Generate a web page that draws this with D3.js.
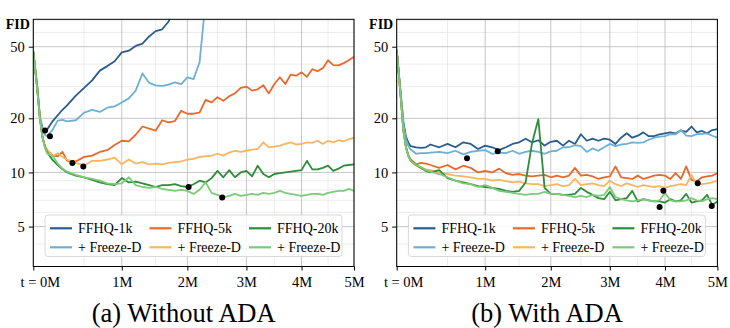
<!DOCTYPE html>
<html>
<head>
<meta charset="utf-8">
<script src="https://cdn.jsdelivr.net/npm/d3@7"></script>
<style>
  body { margin: 0; background: #fff; }
  text { font-family: "Liberation Serif", "DejaVu Serif", serif; }
</style>
</head>
<body>
<div class="chart"></div>
<script>
const WIDTH = 730;
const HEIGHT = 328;
const TOP = 19.3;
const PW = 320.7;
const PH = 247.2;

// training progress (M images shown)
var T = [0, 0.02, 0.04, 0.06, 0.08, 0.1, 0.15, 0.2, 0.25, 0.3,
  0.4, 0.5, 0.6, 0.7, 0.8, 0.9, 1.0, 1.1, 1.2, 1.3,
  1.4, 1.5, 1.6, 1.7, 1.8, 1.9, 2.0, 2.1, 2.2, 2.3,
  2.4, 2.5, 2.6, 2.7, 2.8, 2.9, 3.0, 3.1, 3.2, 3.3,
  3.4, 3.5, 3.6, 3.7, 3.8, 3.9, 4.0, 4.1, 4.2, 4.3,
  4.4, 4.5, 4.6, 4.7, 4.8, 4.9, 5.0];

var xTicks = [0, 1, 2, 3, 4, 5];
var xTickLabels = ["t = 0M", "1M", "2M", "3M", "4M", "5M"];
var xMinor = [0.5, 1.5, 2.5, 3.5, 4.5];
var yTicks = [5, 10, 20, 50];
var yMinor = [4, 6, 7, 8, 9, 30, 40, 60, 70];

var seriesNames = ["FFHQ-1k", "+ Freeze-D", "FFHQ-5k", "+ Freeze-D", "FFHQ-20k", "+ Freeze-D"];

// (a) without ADA
var noAda1k = [47, 30, 20, 17.6, 17.1, 17.4, 19.3, 20.8, 22.3, 23.6,
  26.7, 29.5, 32.5, 36.8, 39, 41.5, 46.5, 47.5, 50.5, 52,
  57, 61, 62.5, 69, 85];
var noAda1kFD = [47, 30, 20, 17.0, 16.2, 15.9, 17.3, 19.4, 19.6, 19.2,
  19.5, 21.5, 22.3, 21.7, 22.9, 23.3, 24.5, 25.8, 28.5, 35.5,
  31.5, 30.5, 30.3, 30.8, 31.7, 31, 33.8, 33, 41, 90];
var noAda5k = [47, 30, 20, 15.6, 14.0, 13.3, 12.4, 12.3, 13.0, 11.6,
  11.5, 12.2, 12.4, 13.0, 13.3, 14.2, 15, 14.9, 16.2, 18,
  17.5, 17.1, 19.5, 19, 19.3, 22, 21.2, 21.2, 21.5, 25.3,
  24.5, 26.2, 25, 26.5, 27.5, 29.5, 30, 28.5, 29, 30.5,
  27.5, 31, 33.8, 31, 35, 34.5, 36, 34, 37.5, 36.5,
  38, 42, 39.5, 39.4, 40.5, 42, 44];
var noAda5kFD = [47, 30, 20, 15.6, 14.0, 13.3, 12.3, 12.8, 12.2, 11.8,
  11.3, 10.9, 11.6, 11.6, 11.8, 12.1, 11.1, 11.8, 11.2, 11.4,
  11.1, 11.2, 11.1, 11.3, 11.4, 11.5, 11.8, 11.9, 12.2, 12.3,
  12.4, 12.7, 12.4, 12.9, 13.2, 13.0, 13.2, 13.4, 13.5, 14.7,
  13.8, 13.9, 14.1, 14.4, 14.7, 14.3, 14.4, 14.7, 14.6, 15,
  14.4, 15, 14.7, 15.1, 14.9, 15.3, 15.6];
var noAda20k = [47, 29.5, 19.5, 15.5, 13.8, 12.9, 11.7, 11.0, 10.4, 10.0,
  9.6, 9.4, 9.1, 8.8, 8.6, 8.5, 9.3, 8.8, 8.9, 8.7,
  8.5, 8.3, 8.5, 8.5, 8.6, 8.4, 8.3, 8.6, 9.0, 8.8,
  9.3, 10.2, 9.4, 10.3, 9.4, 10.0, 10.2, 9.5, 10.9, 9.8,
  9.4, 9.8, 9.9, 10.0, 10.1, 10.2, 10.3, 11.6, 10.4, 10.4,
  10.6, 10.9, 10.2, 10.5, 10.9, 11.0, 11.1];
var noAda20kFD = [47, 29, 19.5, 15.6, 13.7, 12.7, 12.3, 11.2, 10.5, 10.1,
  9.7, 9.4, 9.2, 9.0, 8.7, 8.6, 8.7, 9.4, 8.5, 8.3,
  8.2, 8.3, 8.1, 8.0, 7.9, 8.0, 7.9, 7.6, 8.0, 8.8,
  7.7, 7.5, 7.3, 7.4, 7.6, 7.4, 7.5, 7.6, 7.5, 7.7,
  7.6, 7.7, 7.9, 7.7, 7.6, 7.5, 7.4, 7.5, 7.6, 7.6,
  7.5, 7.7, 7.8, 7.9, 7.9, 8.1, 7.9];
var noAdaBest = [[0.08, 17.1], [0.124, 15.9], [0.36, 11.3], [0.49, 10.8], [2.02, 8.3], [2.58, 7.25]];

// (b) with ADA
var ada1k = [48, 28, 19, 15.8, 14.6, 14.0, 13.8, 13.7, 13.8, 14.3,
  13.8, 14.4, 13.8, 14.7, 14.4, 13.5, 14.1, 13.8, 13.3, 13.8,
  14.4, 14.7, 15.4, 14.7, 15.1, 14.1, 14.8, 15.0, 14.1, 15.0,
  14.4, 16.3, 15.0, 15.4, 15.0, 15.4, 15.2, 14.4, 15.6, 16.5,
  15.6, 16.0, 16.7, 15.9, 15.9, 16.3, 16.5, 16.7, 16.5, 17.1,
  16.8, 18.0, 16.7, 17.0, 16.5, 17.2, 17.4];
var ada1kFD = [48, 28, 18.5, 15.3, 14.0, 13.4, 12.7, 12.8, 12.8, 12.9,
  13.0, 12.8, 13.2, 12.6, 13.0, 13.2, 13.3, 12.7, 12.9, 12.8,
  13.2, 12.7, 13.0, 13.2, 13.0, 12.7, 13.1, 13.2, 13.8, 13.8,
  14.2, 14.0, 13.0, 13.6, 13.2, 13.8, 14.4, 14.0, 14.3, 14.4,
  14.7, 14.6, 14.7, 15.2, 15.6, 15.8, 15.9, 16.3, 16.3, 17.2,
  16.0, 15.9, 16.3, 16.4, 16.5, 16.0, 15.6];
var ada5k = [48, 27, 17, 13.8, 12.4, 11.8, 11.1, 11.3, 11.2, 11.0,
  10.6, 11.0, 10.4, 10.9, 10.6, 10.0, 10.2, 10.0, 10.5, 9.9,
  9.7, 9.8, 9.6, 9.5, 9.6, 9.7, 9.4, 9.6, 9.4, 9.6,
  10.6, 9.6, 9.7, 9.5, 9.2, 9.4, 9.5, 10.8, 9.4, 9.3,
  9.2, 9.6, 9.2, 9.4, 9.6, 9.7, 9.6, 9.2, 9.9, 9.2,
  10.8, 9.1, 8.9, 9.4, 9.5, 9.6, 9.9];
var ada5kFD = [48, 27, 17, 13.6, 12.2, 11.6, 10.9, 10.6, 10.4, 10.3,
  10.0, 9.8, 9.6, 9.5, 9.4, 9.2, 9.2, 9.0, 9.1, 8.95,
  8.8, 8.9, 8.7, 8.6, 8.6, 8.4, 8.5, 8.6, 8.4, 8.5,
  9.2, 8.5, 8.6, 8.7, 8.5, 8.4, 9.0, 8.6, 8.4, 8.7,
  8.5, 8.3, 8.5, 8.4, 8.3, 8.4, 8.2, 8.4, 8.5, 8.6,
  8.5, 9.7, 8.6, 8.6, 8.7, 8.8, 9.0];
var ada20k = [48, 27, 17, 13.8, 12.4, 11.6, 11.0, 10.6, 10.2, 10.0,
  10.3, 9.3, 9.0, 8.8, 8.6, 8.4, 8.3, 8.2, 8.1, 7.9,
  7.8, 7.9, 8.8, 14.5, 19.8, 8.2, 7.6, 7.6, 7.5, 7.5,
  7.6, 8.2, 7.8, 7.5, 7.2, 7.1, 7.8, 7.0, 7.1, 7.2,
  7.9, 6.9, 7.1, 7.0, 6.9, 6.9, 6.8, 7.1, 6.9, 7.0,
  7.6, 6.8, 6.9, 7.0, 7.5, 6.6, 6.9];
var ada20kFD = [48, 27, 17, 13.7, 12.3, 11.6, 11.0, 10.7, 10.3, 10.1,
  9.8, 9.4, 9.0, 8.7, 8.6, 8.3, 8.5, 8.2, 7.9, 7.8,
  7.7, 7.6, 7.5, 7.6, 7.6, 7.8, 7.6, 7.6, 7.5, 7.4,
  7.3, 7.4, 7.3, 7.5, 7.4, 7.5, 8.3, 7.3, 7.1, 7.0,
  6.9, 7.0, 7.1, 7.0, 6.9, 7.0, 7.7, 7.0, 6.9, 6.9,
  7.0, 7.2, 7.0, 6.9, 7.1, 7.2, 7.1];
var adaBest = [[0.75, 12.0], [1.18, 13.1], [3.97, 7.9], [4.62, 8.7], [3.9, 6.43], [4.89, 6.5]];

var colors = ["#2a5d8e", "#6db0d6", "#e8692c", "#f7b661", "#2e8c3b", "#7ccb7a"];

var panels = [
  { left: 33.3, series: [noAda1k, noAda1kFD, noAda5k, noAda5kFD, noAda20k, noAda20kFD], best: noAdaBest, caption: "(a) Without ADA" },
  { left: 396.7, series: [ada1k, ada1kFD, ada5k, ada5kFD, ada20k, ada20kFD], best: adaBest, caption: "(b) With ADA" }
];

var translate = function (x, y) {
  return "translate(" + x + "," + y + ")";
};

var svg = d3.select(".chart").append("svg")
  .attr("width", WIDTH)
  .attr("height", HEIGHT);

var x = d3.scalePow().exponent(0.8).domain([0, 5]).range([0, PW]);
var y = d3.scaleLog().domain([3, 71]).range([PH, 0]);

var line = d3.line()
  .x(function (d) { return x(d[0]); })
  .y(function (d) { return y(d[1]); });

panels.forEach(function (p, pi) {
  var g = svg.append("g").attr("transform", translate(p.left, TOP));

  g.append("clipPath").attr("id", "clip" + pi)
    .append("rect").attr("width", PW).attr("height", PH);

  // minor grid
  g.selectAll(".xminor").data(xMinor).enter().append("line")
    .attr("x1", function (d) { return x(d); }).attr("x2", function (d) { return x(d); })
    .attr("y1", 0).attr("y2", PH)
    .attr("stroke", "#e4e4e4").attr("stroke-width", 0.7);
  g.selectAll(".yminor").data(yMinor).enter().append("line")
    .attr("y1", function (d) { return y(d); }).attr("y2", function (d) { return y(d); })
    .attr("x1", 0).attr("x2", PW)
    .attr("stroke", "#e4e4e4").attr("stroke-width", 0.7);

  // major grid
  g.selectAll(".xmajor").data(xTicks).enter().append("line")
    .attr("x1", function (d) { return x(d); }).attr("x2", function (d) { return x(d); })
    .attr("y1", 0).attr("y2", PH)
    .attr("stroke", "#b8b8b8").attr("stroke-width", 0.8);
  g.selectAll(".ymajor").data(yTicks).enter().append("line")
    .attr("y1", function (d) { return y(d); }).attr("y2", function (d) { return y(d); })
    .attr("x1", 0).attr("x2", PW)
    .attr("stroke", "#b8b8b8").attr("stroke-width", 0.8);

  // curves
  var lines = g.append("g").attr("clip-path", "url(#clip" + pi + ")");
  p.series.forEach(function (vals, i) {
    var pts = vals.map(function (v, k) { return [T[k], v]; });
    lines.append("path")
      .attr("d", line(pts))
      .attr("fill", "none")
      .attr("stroke", colors[i])
      .attr("stroke-width", 1.8)
      .attr("stroke-linejoin", "round");
  });

  // best FID markers
  g.selectAll(".best").data(p.best).enter().append("circle")
    .attr("cx", function (d) { return x(d[0]); })
    .attr("cy", function (d) { return y(d[1]); })
    .attr("r", 3)
    .attr("fill", "#000");

  // legend
  var lg = g.append("g").attr("transform", translate(11.7, 195.7));
  lg.append("rect")
    .attr("width", 297).attr("height", 41.5)
    .attr("rx", 3)
    .attr("fill", "#fff").attr("fill-opacity", 0.85)
    .attr("stroke", "#cfcfcf").attr("stroke-width", 0.8);
  seriesNames.forEach(function (name, i) {
    var cx = 5 + Math.floor(i / 2) * 99.5;
    var cy = 13.3 + (i % 2) * 19;
    lg.append("line")
      .attr("x1", cx).attr("x2", cx + 22)
      .attr("y1", cy).attr("y2", cy)
      .attr("stroke", colors[i]).attr("stroke-width", 2.2);
    lg.append("text")
      .attr("x", cx + 28).attr("y", cy)
      .attr("dy", "0.33em")
      .style("font-size", "14px")
      .text(name);
  });

  // frame
  g.append("rect")
    .attr("width", PW).attr("height", PH)
    .attr("fill", "none").attr("stroke", "#000").attr("stroke-width", 1);

  // axes
  var ax = g.append("g").attr("transform", translate(0, PH))
    .call(d3.axisBottom(x).tickValues(xTicks)
      .tickFormat(function (d, i) { return xTickLabels[i]; })
      .tickSize(4).tickPadding(6).tickSizeOuter(0));
  ax.select(".domain").remove();
  ax.selectAll("text").style("font-size", "14.5px").attr("fill", "#000")
    .attr("dx", function (d, i) { return i === 0 ? 6.5 : 0; });

  var ay = g.append("g")
    .call(d3.axisLeft(y).tickValues(yTicks).tickFormat(d3.format("d"))
      .tickSize(4.5).tickPadding(4).tickSizeOuter(0));
  ay.select(".domain").remove();
  ay.selectAll("text").style("font-size", "14.5px").attr("fill", "#000");

  g.append("text")
    .attr("x", -3.5).attr("y", 10)
    .attr("text-anchor", "end")
    .style("font-size", "14px").style("font-weight", "bold")
    .text("FID");

  svg.append("text")
    .attr("x", p.left + PW / 2 - 10).attr("y", 322)
    .attr("text-anchor", "middle")
    .style("font-size", "26.5px")
    .text(p.caption);
});
</script>
</body>
</html>
